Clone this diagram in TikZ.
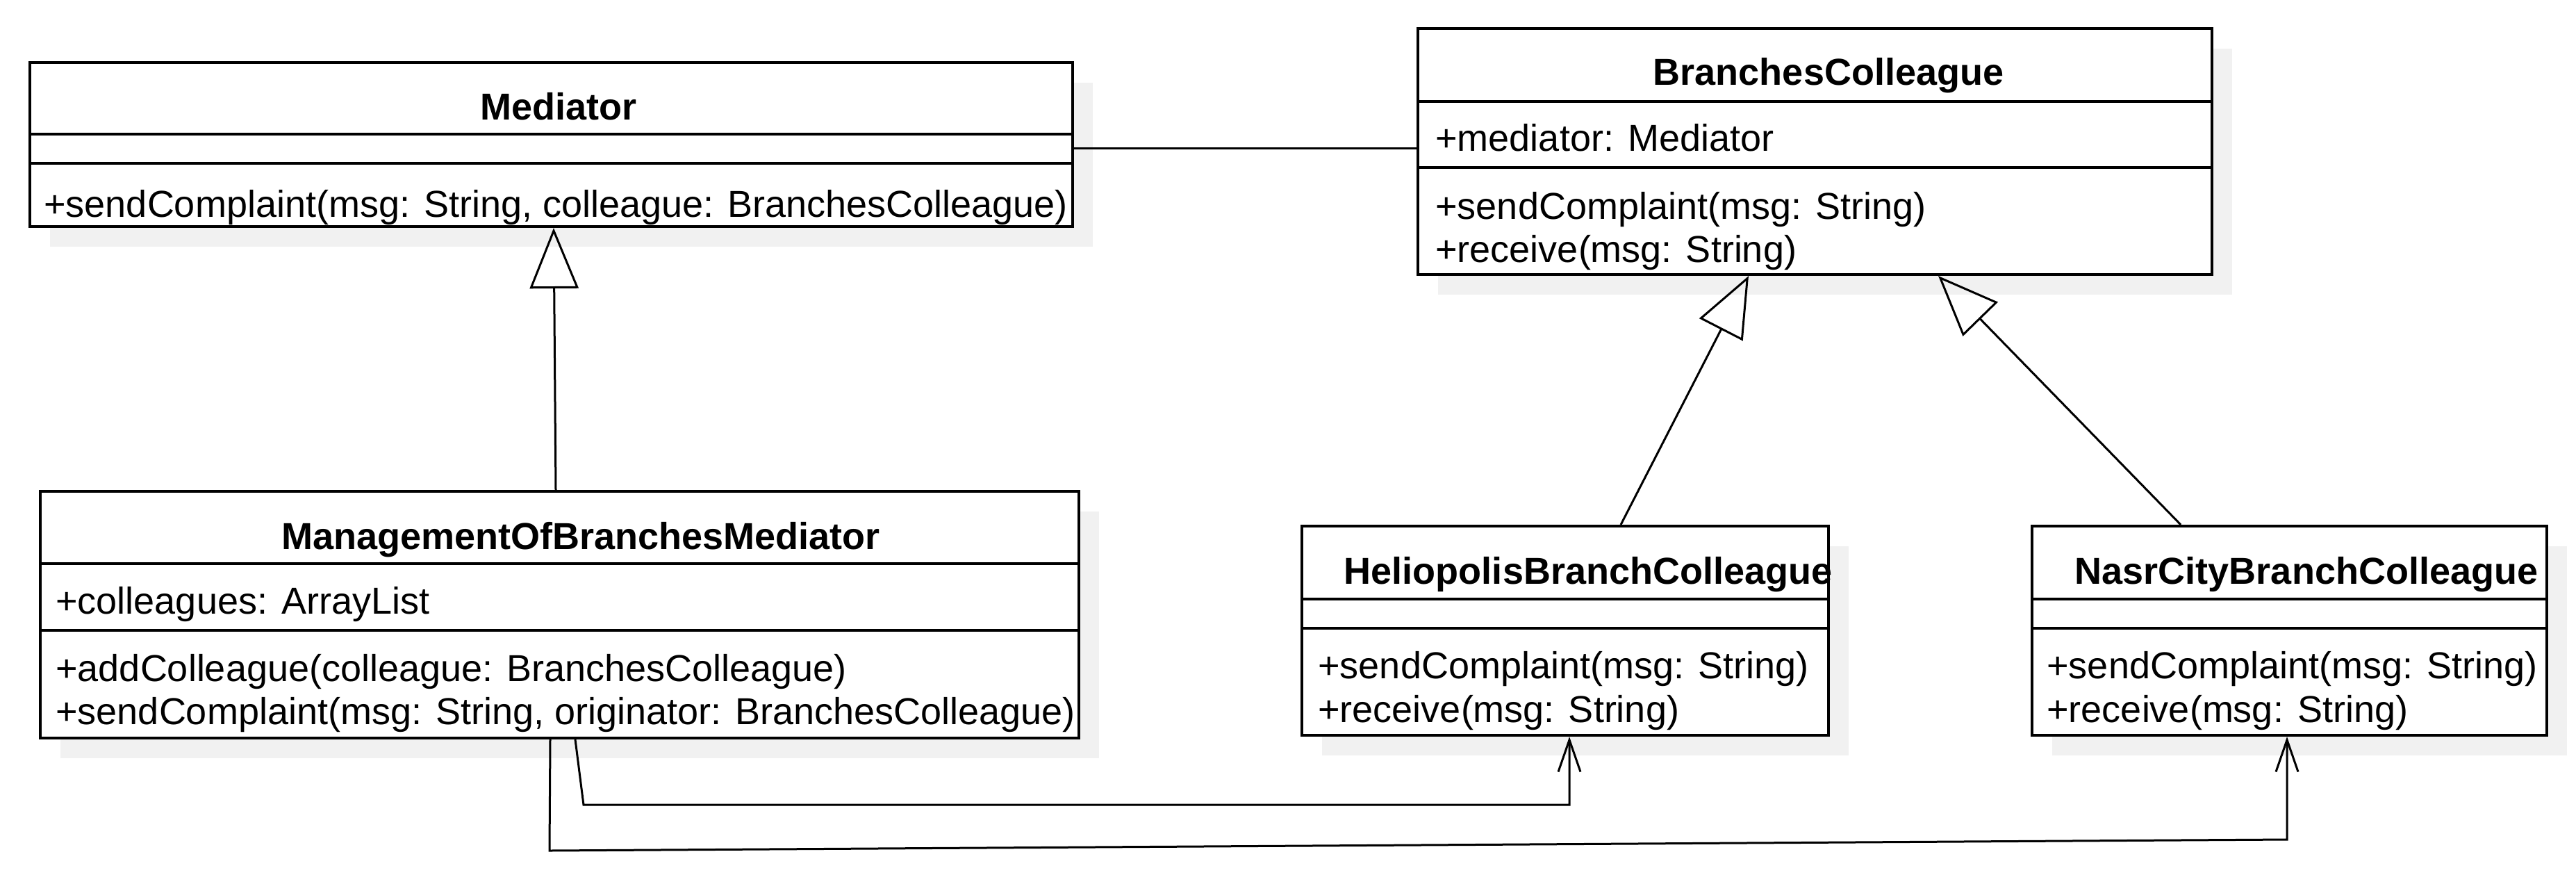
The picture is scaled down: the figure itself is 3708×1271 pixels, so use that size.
\documentclass[tikz,border=0pt]{standalone}
\usepackage{fontspec}
\setmainfont{Liberation Sans}
\usetikzlibrary{fit,arrows.meta}
\definecolor{shadowc}{HTML}{F1F1F1}
\begin{document}
\begin{tikzpicture}[x=0.5pt,y=-0.5pt,
  box/.style={draw, line width=2pt, fill=white, inner sep=0pt},
  sepline/.style={line width=2pt},
  txt/.style={anchor=base west, inner sep=0pt, font=\fontsize{27}{31}\selectfont},
  ttl/.style={anchor=base, inner sep=0pt, font=\fontsize{27}{31}\selectfont\bfseries},
  conn/.style={line width=1.5pt},
  gen/.style={conn, -{Triangle[open, length=43.5pt, width=35pt]}},
  nav/.style={conn, -{Straight Barb[length=23pt, width=16pt]}}]
\useasboundingbox (0,0) rectangle (3708,1271);
% shadows
\fill[shadowc] (72,119) rectangle (1573,355);
\fill[shadowc] (2070,70) rectangle (3213,424);
\fill[shadowc] (87,736) rectangle (1582,1091);
\fill[shadowc] (1903,786) rectangle (2661,1087);
\fill[shadowc] (2954,786) rectangle (3695,1087);
% boxes
\node[box, fit={(43,90) (1544,326)}] (med) {};
\node[box, fit={(2041,41) (3184,395)}] (bc) {};
\node[box, fit={(58,707) (1553,1062)}] (mobm) {};
\node[box, fit={(1874,757) (2632,1058)}] (helio) {};
\node[box, fit={(2925,757) (3666,1058)}] (nasr) {};
% separators
\draw[sepline] (med.west |- 0,193) -- (med.east |- 0,193);
\draw[sepline] (med.west |- 0,235) -- (med.east |- 0,235);
\draw[sepline] (bc.west |- 0,146) -- (bc.east |- 0,146);
\draw[sepline] (bc.west |- 0,241) -- (bc.east |- 0,241);
\draw[sepline] (mobm.west |- 0,811) -- (mobm.east |- 0,811);
\draw[sepline] (mobm.west |- 0,907) -- (mobm.east |- 0,907);
\draw[sepline] (helio.west |- 0,862) -- (helio.east |- 0,862);
\draw[sepline] (helio.west |- 0,904) -- (helio.east |- 0,904);
\draw[sepline] (nasr.west |- 0,862) -- (nasr.east |- 0,862);
\draw[sepline] (nasr.west |- 0,904) -- (nasr.east |- 0,904);
% texts
\node[ttl] (medT) at (804,172) {Mediator};
\node[txt] (medM) at (63,312) {+sendComplaint(msg: String, colleague: BranchesColleague)};
\node[ttl] (bcT) at (2632,122) {BranchesColleague};
\node[txt] (bcA) at (2066,217) {+mediator: Mediator};
\node[txt] (bcM1) at (2066,315) {+sendComplaint(msg: String)};
\node[txt] (bcM2) at (2066,377) {+receive(msg: String)};
\node[ttl] (mobmT) at (836,790) {ManagementOfBranchesMediator};
\node[txt] (mobmA) at (80,883) {+colleagues: ArrayList};
\node[txt] (mobmM1) at (80,980) {+addColleague(colleague: BranchesColleague)};
\node[txt] (mobmM2) at (80,1042) {+sendComplaint(msg: String, originator: BranchesColleague)};
\node[ttl] (helioT) at (2286,840) {HeliopolisBranchColleague};
\node[txt] (helioM1) at (1897,976) {+sendComplaint(msg: String)};
\node[txt] (helioM2) at (1897,1039) {+receive(msg: String)};
\node[ttl] (nasrT) at (3320,840) {NasrCityBranchColleague};
\node[txt] (nasrM1) at (2946,976) {+sendComplaint(msg: String)};
\node[txt] (nasrM2) at (2946,1039) {+receive(msg: String)};
% connectors
\draw[conn] (med.east |- 0,213) -- (bc.west |- 0,213);
\draw[gen] (mobm.north -| 800,0) -- (med.south -| 797,0);
\draw[gen] (helio.north -| 2333,0) -- (bc.south -| 2517,0);
\draw[gen] (nasr.north -| 3139,0) -- (bc.south -| 2790,0);
\draw[nav] (mobm.south -| 828,0) -- (840,1158) -- (2259,1158) -- (helio.south -| 2259,0);
\draw[nav] (mobm.south -| 792,0) -- (791,1224) -- (3292,1208) -- (nasr.south -| 3292,0);
\end{tikzpicture}
\end{document}
